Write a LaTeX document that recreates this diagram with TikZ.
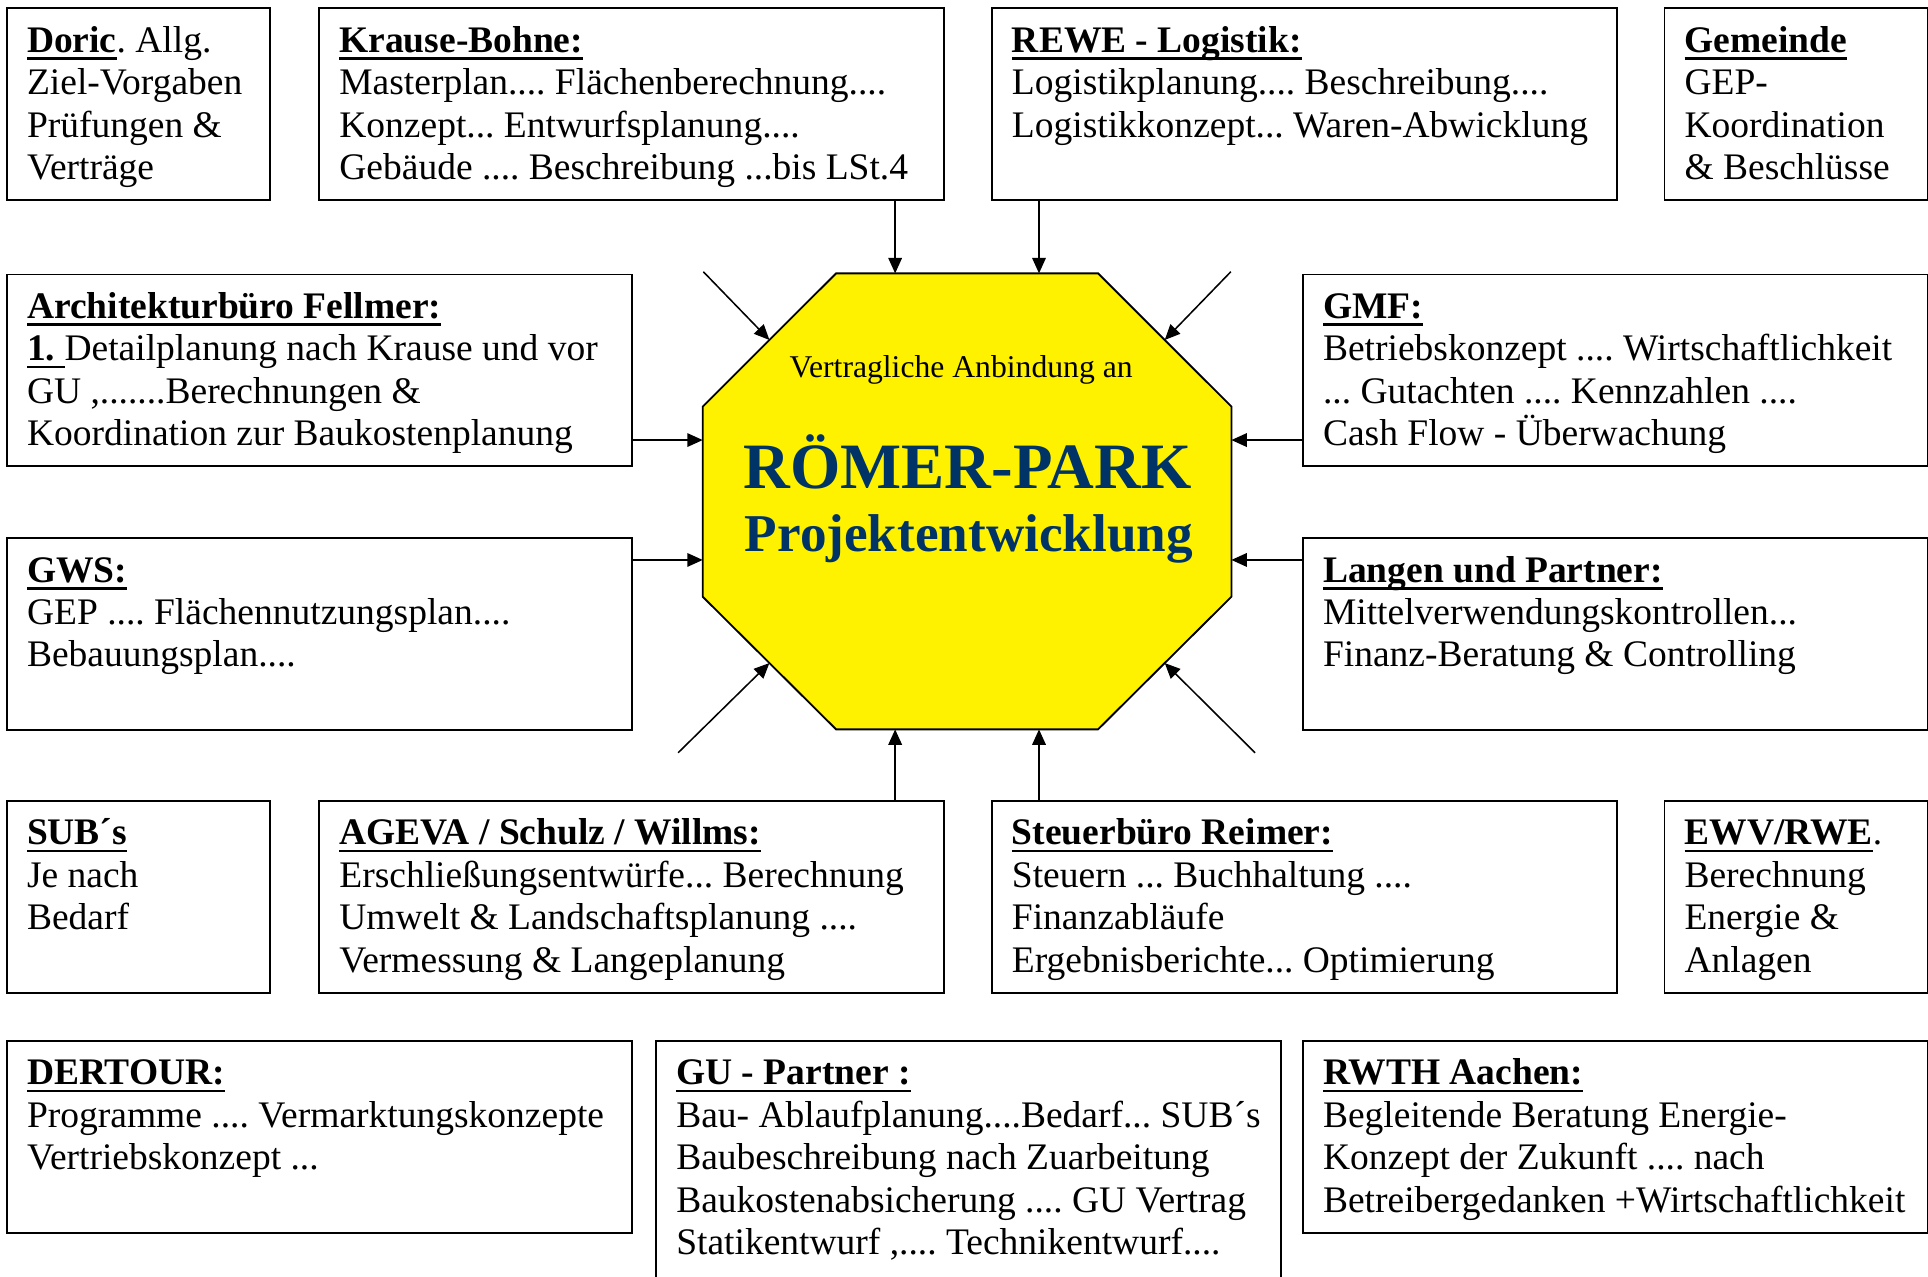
\documentclass[tikz,border=0pt]{standalone}
\usepackage{fontspec}
\setmainfont{Liberation Serif}
\usepackage{xcolor}
\usepackage{tikz}
\usetikzlibrary{arrows.meta,calc}

\definecolor{parkblue}{RGB}{0,51,102}
\newsavebox{\ulbox}
\newcommand{\ulhead}[1]{\sbox{\ulbox}{#1}\rlap{\rule[-2.4pt]{\wd\ulbox}{0.8pt}}\usebox{\ulbox}}

\begin{document}
\frenchspacing
\begin{tikzpicture}[x=0.4pt, y=-0.4pt,
	frame/.style={draw, line width=0.6pt, anchor=north west, inner sep=0pt, minimum height=62.4pt},
	wide/.style={frame, minimum width=203.2pt},
	narrow/.style={frame, minimum width=85.6pt},
	txt/.style={anchor=north west, align=left, inner sep=0pt, font=\fontsize{12.2}{13.8}\selectfont},
	arr/.style={line width=0.5pt, -{Triangle[length=5pt, width=4.4pt]}}]

\useasboundingbox (0,0) rectangle (1568,1038);
\clip (0,0) rectangle (1568,1038);

% the octagon
\coordinate (o1) at (680,222.3);
\coordinate (o2) at (893,222.3);
\coordinate (o3) at (1001.5,330.7);
\coordinate (o4) at (1001.5,485.3);
\coordinate (o5) at (893,593.2);
\coordinate (o6) at (680,593.2);
\coordinate (o7) at (571.5,485.3);
\coordinate (o8) at (571.5,330.7);
\draw[line width=0.6pt, fill=yellow] (o1) -- (o2) -- (o3) -- (o4) -- (o5) -- (o6) -- (o7) -- (o8) -- cycle;

\node[anchor=base, inner sep=0pt, font=\fontsize{10.3}{12}\selectfont] (vertrag) at (781.7,306.9) {Vertragliche Anbindung an};
\node[anchor=base, inner sep=0pt, text=parkblue, font=\fontsize{21.05}{24}\selectfont\bfseries] (roemer) at (787,397.2) {RÖMER-PARK};
\node[anchor=base, inner sep=0pt, text=parkblue, font=\fontsize{17.3}{20}\selectfont\bfseries] (projekt) at (788,448.7) {Projektentwicklung};

% top row
\node[narrow] (doric) at (5,6) {};
\node[txt] (doricT) at ($(doric.north west)+(16.5,11.8)$) {\strut\ulhead{\textbf{Doric}}. Allg.\\Ziel-Vorgaben\\Prüfungen \&\\Verträge};
\node[wide] (krause) at (259,6) {};
\node[txt] (krauseT) at ($(krause.north west)+(16.5,11.8)$) {\strut\ulhead{\textbf{Krause-Bohne:}}\\Masterplan.... Flächenberechnung....\\Konzept... Entwurfsplanung....\\Gebäude .... Beschreibung ...bis LSt.4};
\node[wide] (rewe) at (806,6) {};
\node[txt] (reweT) at ($(rewe.north west)+(16.5,11.8)$) {\strut\ulhead{\textbf{REWE - Logistik:}}\\Logistikplanung.... Beschreibung....\\Logistikkonzept... Waren-Abwicklung};
\node[narrow] (gemeinde) at (1353,6) {};
\node[txt] (gemeindeT) at ($(gemeinde.north west)+(16.5,11.8)$) {\strut\ulhead{\textbf{Gemeinde}}\\GEP-\\Koordination\\\& Beschlüsse};

% middle rows
\node[wide] (arch) at (5,222.5) {};
\node[txt] (archT) at ($(arch.north west)+(16.5,11.8)$) {\strut\ulhead{\textbf{Architekturbüro Fellmer:}}\\\ulhead{\textbf{1.}\ }Detailplanung nach Krause und vor\\GU ,.......Berechnungen \&\\Koordination zur Baukostenplanung};
\node[wide] (gmf) at (1059,222.5) {};
\node[txt] (gmfT) at ($(gmf.north west)+(16.5,11.8)$) {\strut\ulhead{\textbf{GMF:}}\\Betriebskonzept .... Wirtschaftlichkeit\\... Gutachten .... Kennzahlen ....\\Cash Flow - Überwachung};
\node[wide] (gws) at (5,437) {};
\node[txt] (gwsT) at ($(gws.north west)+(16.5,11.8)$) {\strut\ulhead{\textbf{GWS:}}\\GEP .... Flächennutzungsplan....\\Bebauungsplan....};
\node[wide] (langen) at (1059,437) {};
\node[txt] (langenT) at ($(langen.north west)+(16.5,11.8)$) {\strut\ulhead{\textbf{Langen und Partner:}}\\Mittelverwendungskontrollen...\\Finanz-Beratung \& Controlling};

% lower row
\node[narrow] (subs) at (5,650.6) {};
\node[txt] (subsT) at ($(subs.north west)+(16.5,11.8)$) {\strut\ulhead{\textbf{SUB´s}}\\Je nach\\Bedarf};
\node[wide] (ageva) at (259,650.6) {};
\node[txt] (agevaT) at ($(ageva.north west)+(16.5,11.8)$) {\strut\ulhead{\textbf{AGEVA / Schulz / Willms:}}\\Erschließungsentwürfe... Berechnung\\Umwelt \& Landschaftsplanung ....\\Vermessung \& Langeplanung};
\node[wide] (steuer) at (806,650.6) {};
\node[txt] (steuerT) at ($(steuer.north west)+(16.5,11.8)$) {\strut\ulhead{\textbf{Steuerbüro Reimer:}}\\Steuern ... Buchhaltung ....\\Finanzabläufe\\Ergebnisberichte... Optimierung};
\node[narrow] (ewv) at (1353,650.6) {};
\node[txt] (ewvT) at ($(ewv.north west)+(16.5,11.8)$) {\strut\ulhead{\textbf{EWV/RWE}}.\\Berechnung\\Energie \&\\Anlagen};

% bottom row
\node[wide] (dertour) at (5,845.8) {};
\node[txt] (dertourT) at ($(dertour.north west)+(16.5,11.8)$) {\strut\ulhead{\textbf{DERTOUR:}}\\Programme .... Vermarktungskonzepte\\Vertriebskonzept ...};
\node[wide, minimum height=80pt] (gu) at (533,845.8) {};
\node[txt] (guT) at ($(gu.north west)+(16.5,11.8)$) {\strut\ulhead{\textbf{GU - Partner :}}\\Bau- Ablaufplanung....Bedarf... SUB´s\\Baubeschreibung nach Zuarbeitung\\Baukostenabsicherung .... GU Vertrag\\Statikentwurf ,.... Technikentwurf....};
\node[wide] (rwth) at (1059,845.8) {};
\node[txt] (rwthT) at ($(rwth.north west)+(16.5,11.8)$) {\strut\ulhead{\textbf{RWTH Aachen:}}\\Begleitende Beratung Energie-\\Konzept der Zukunft .... nach\\Betreibergedanken +Wirtschaftlichkeit};

% arrows into the octagon
\coordinate (inN1) at (728,222.3);
\coordinate (inN2) at (845,222.3);
\coordinate (inS1) at (728,593.2);
\coordinate (inS2) at (845,593.2);
\coordinate (inW1) at (571.5,357.9);
\coordinate (inW2) at (571.5,455.4);
\coordinate (inE1) at (1001.5,357.9);
\coordinate (inE2) at (1001.5,455.4);
\coordinate (inNW) at ($(o8)!0.5!(o1)$);
\coordinate (inNE) at ($(o2)!0.5!(o3)$);
\coordinate (inSE) at ($(o4)!0.5!(o5)$);
\coordinate (inSW) at ($(o6)!0.5!(o7)$);
\coordinate (fNW) at (572,221);
\coordinate (fNE) at (1001,221);
\coordinate (fSW) at (551.5,612.2);
\coordinate (fSE) at (1020.7,612.2);

\draw[arr] (krause.south -| inN1) -- (inN1);
\draw[arr] (rewe.south -| inN2) -- (inN2);
\draw[arr] (ageva.north -| inS1) -- (inS1);
\draw[arr] (steuer.north -| inS2) -- (inS2);
\draw[arr] (arch.east |- inW1) -- (inW1);
\draw[arr] (gws.east |- inW2) -- (inW2);
\draw[arr] (gmf.west |- inE1) -- (inE1);
\draw[arr] (langen.west |- inE2) -- (inE2);
\foreach \c in {NW,NE,SW,SE}{
	\draw[arr] (f\c) -- (in\c);
}

\end{tikzpicture}
\end{document}
